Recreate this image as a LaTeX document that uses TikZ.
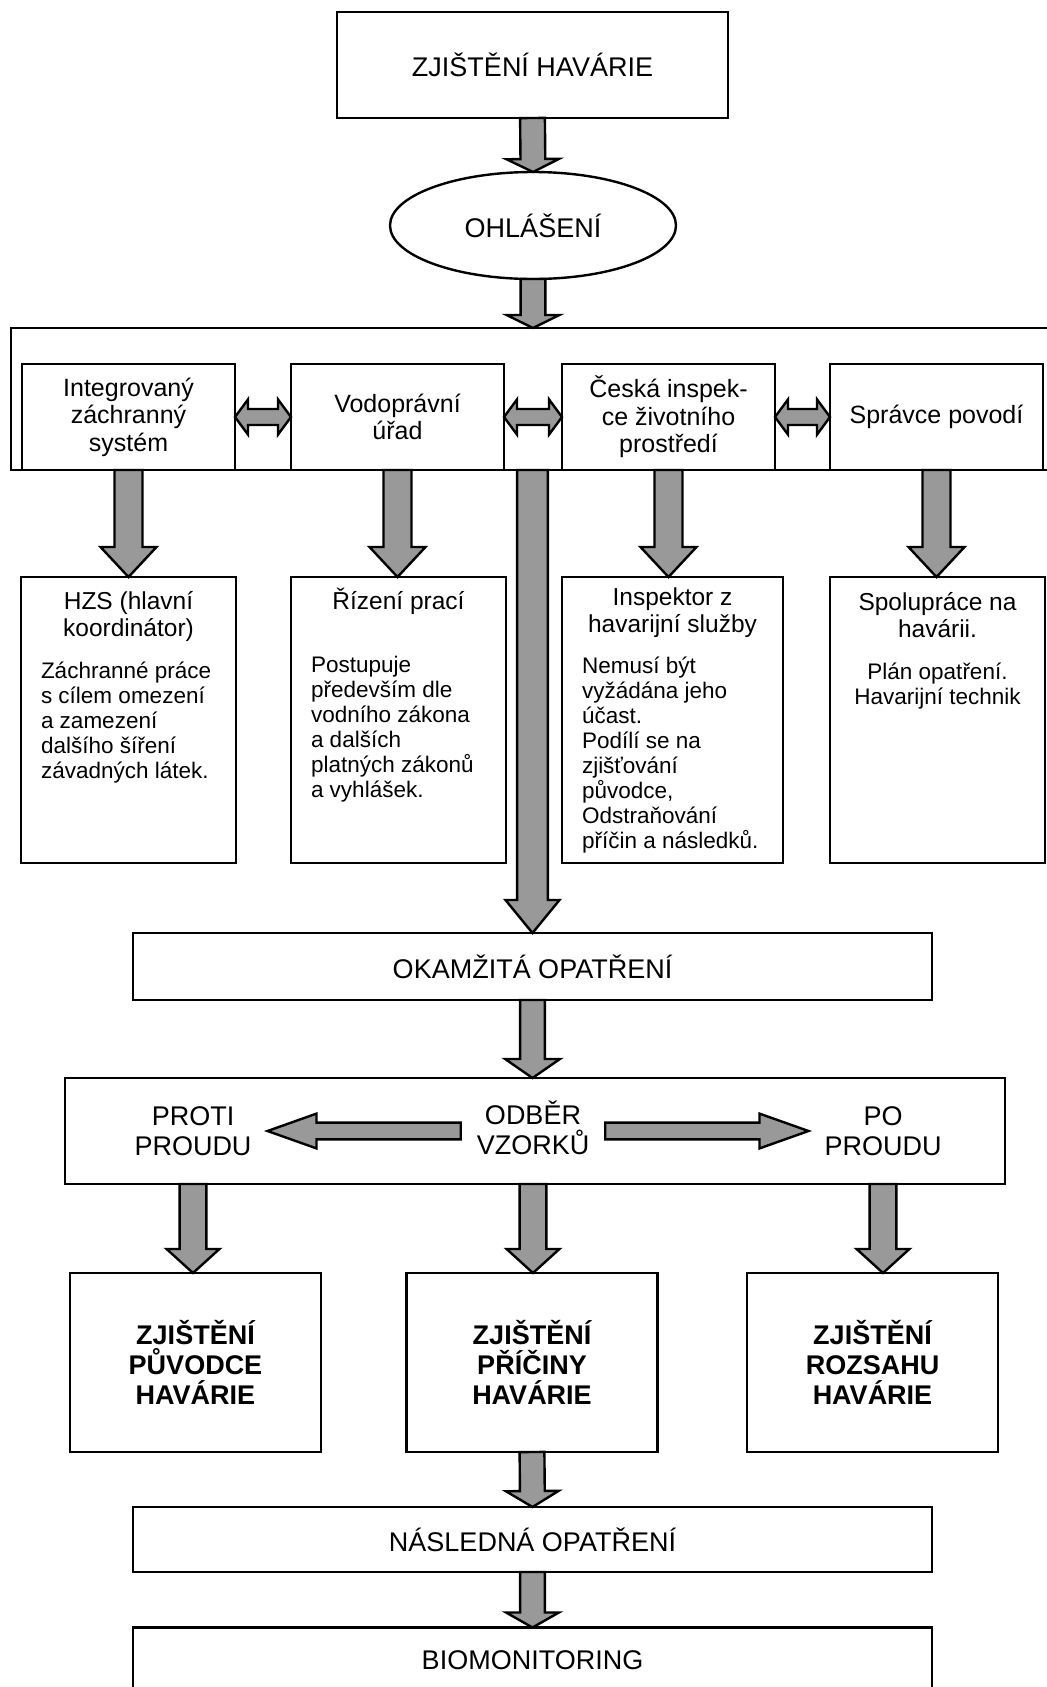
\documentclass[tikz,border=0pt]{standalone}
\usepackage{fontspec}
\setmainfont{Liberation Sans}
\usepackage{tikz}
\usetikzlibrary{calc}
\usetikzlibrary{positioning}
\usetikzlibrary{shapes.geometric}
\definecolor{arrowgrey}{RGB}{153,153,153}
\tikzset{
  mainbox/.style={draw, line width=1.4pt, inner sep=0pt, outer sep=0pt, align=center, font=\fontsize{13.5pt}{15pt}\selectfont},
  rowbox/.style={draw, line width=1.4pt, minimum width=106.5pt, minimum height=53pt, inner sep=2pt, outer sep=0pt, align=center, font=\fontsize{12.5pt}{13.75pt}\selectfont},
  detailbox/.style={draw, line width=1.4pt, anchor=north, inner xsep=10pt, inner ysep=0pt, outer sep=0pt},
  flowtext/.style={inner xsep=8pt, inner ysep=0pt, outer sep=0pt, align=center, font=\fontsize{13.5pt}{15pt}\selectfont},
  resultbox/.style={mainbox, minimum width=125.5pt, minimum height=89.5pt, font=\bfseries\fontsize{13.5pt}{15pt}\selectfont},
  fatarrow/.style={fill=arrowgrey, draw=black, line width=1.2pt, line join=miter}
}
\newcommand\detailtext[5]{\parbox[t][143pt][t]{#1}{\centering\fontsize{12.25pt}{13.5pt}\selectfont\rule{0pt}{#2}#3\par
  \vspace{#4}\raggedright\fontsize{11.25pt}{12.5pt}\selectfont #5\par}}
\newcommand\blockarrow[5]{\path[fatarrow] let \p1=(#1), \p2=(#2), \n1={atan2(\y2-\y1,\x2-\x1)} in
  ($(\p1)+(\n1+90:#3)$) -- ($(\p2)+(\n1+180:#5)+(\n1+90:#3)$) -- ($(\p2)+(\n1+180:#5)+(\n1+90:#4)$)
  -- (\p2) -- ($(\p2)+(\n1+180:#5)+(\n1-90:#4)$) -- ($(\p2)+(\n1+180:#5)+(\n1-90:#3)$)
  -- ($(\p1)+(\n1-90:#3)$) -- cycle;}
\newcommand\doublearrow[5]{\path[fatarrow] let \p1=(#1), \p2=(#2), \n1={atan2(\y2-\y1,\x2-\x1)} in
  (\p1) -- ($(\p1)+(\n1:#5)+(\n1+90:#4)$) -- ($(\p1)+(\n1:#5)+(\n1+90:#3)$)
  -- ($(\p2)+(\n1+180:#5)+(\n1+90:#3)$) -- ($(\p2)+(\n1+180:#5)+(\n1+90:#4)$)
  -- (\p2) -- ($(\p2)+(\n1+180:#5)+(\n1-90:#4)$) -- ($(\p2)+(\n1+180:#5)+(\n1-90:#3)$)
  -- ($(\p1)+(\n1:#5)+(\n1-90:#3)$) -- ($(\p1)+(\n1:#5)+(\n1-90:#4)$) -- cycle;}

\begin{document}
\begin{tikzpicture}[x=0.5pt, y=-0.5pt]
\useasboundingbox (0,0) rectangle (1046,1687);
\node[mainbox, minimum width=195.5pt, minimum height=53pt] (zjisteni) at (532.5,65) {ZJIŠTĚNÍ HAVÁRIE};
\node[mainbox, ellipse, line width=1.2pt, minimum width=143pt, minimum height=53.5pt] (ohlaseni) at (533,225.5) {OHLÁŠENÍ};
\node[mainbox, minimum width=524.5pt, minimum height=71pt] (slozky) at (535.5,399) {};
\node[rowbox] (izs) at (128.5,417) {Integrovaný\\záchranný\\systém};
\node[rowbox, right=28pt of izs] (vodurad) {Vodoprávní\\úřad};
\node[rowbox, right=29pt of vodurad] (cizp) {Česká inspek-\\ce životního\\prostředí};
\node[rowbox, right=27.5pt of cizp] (povodi) {Správce povodí};
\node[detailbox] (hzs) at (128.5,577) {\detailtext{87.5pt}{16pt}{HZS (hlavní\\koordinátor)}{8.5pt}{Záchranné práce\\s cílem omezení\\a zamezení\\dalšího šíření\\závadných látek.}};
\node[detailbox] (rizeni) at (398.5,577) {\detailtext{87.5pt}{16pt}{Řízení prací}{19pt}{Postupuje\\především dle\\vodního zákona\\a dalších\\platných zákonů\\a vyhlášek.}};
\node[detailbox] (inspektor) at (672.5,577) {\detailtext{90.5pt}{14.4pt}{Inspektor z\\havarijní služby}{8pt}{Nemusí být\\vyžádána jeho\\účast.\\Podílí se na\\zjišťování\\původce,\\Odstraňování\\příčin a následků.}};
\node[detailbox] (spoluprace) at (937.5,577) {\detailtext{87.5pt}{16.5pt}{Spolupráce na\\havárii.}{8.5pt}{\centering Plán opatření.\\Havarijní technik}};
\node[mainbox, minimum width=399.5pt, minimum height=33.5pt] (okamzita) at (532.5,966.5) {OKAMŽITÁ OPATŘENÍ};
\node[mainbox, minimum width=470pt, minimum height=53pt] (odber) at (535,1131) {};
\node[flowtext] (proti) at (193,1131) {PROTI\\PROUDU};
\node[flowtext] (vzorky) at (533,1128) {ODBĚR\\VZORKŮ};
\node[flowtext] (poproudu) at (883,1131) {PO\\PROUDU};
\node[resultbox] (puvodce) at (195.5,1362.5) {ZJIŠTĚNÍ\\PŮVODCE\\HAVÁRIE};
\node[resultbox] (priciny) at (532,1362.5) {ZJIŠTĚNÍ\\PŘÍČINY\\HAVÁRIE};
\node[resultbox] (rozsah) at (872.5,1362.5) {ZJIŠTĚNÍ\\ROZSAHU\\HAVÁRIE};
\node[mainbox, minimum width=399.5pt, minimum height=32.5pt] (nasledna) at (532.5,1539.5) {NÁSLEDNÁ OPATŘENÍ};
\node[mainbox, minimum width=399.5pt, minimum height=32.5pt] (bio) at (532.5,1660) {BIOMONITORING};
\blockarrow{zjisteni.south}{ohlaseni.north}{6.2pt}{13.2pt}{6.5pt}
\blockarrow{ohlaseni.south}{ohlaseni.south |- slozky.north}{6.2pt}{13.2pt}{6.5pt}
\doublearrow{izs.east}{vodurad.west}{4pt}{8.8pt}{6.5pt}
\doublearrow{vodurad.east}{cizp.west}{4pt}{8.8pt}{6.5pt}
\doublearrow{cizp.east}{povodi.west}{4pt}{8.8pt}{6.5pt}
\blockarrow{izs.south}{izs.south |- hzs.north}{7pt}{14pt}{15pt}
\blockarrow{vodurad.south}{vodurad.south |- rizeni.north}{7pt}{14pt}{15pt}
\blockarrow{cizp.south}{cizp.south |- inspektor.north}{7pt}{14pt}{15pt}
\blockarrow{povodi.south}{povodi.south |- spoluprace.north}{7pt}{14pt}{15pt}
\blockarrow{okamzita.north |- slozky.south}{okamzita.north}{7.7pt}{13.5pt}{16.5pt}
\blockarrow{okamzita.south}{okamzita.south |- odber.north}{6.2pt}{13.7pt}{9.5pt}
\blockarrow{vzorky.west |- proti.east}{proti.east}{4.2pt}{8.7pt}{24.5pt}
\blockarrow{vzorky.east |- poproudu.west}{poproudu.west}{4.2pt}{8.7pt}{24.5pt}
\blockarrow{proti.south |- odber.south}{proti.south |- puvodce.north}{6.7pt}{13.2pt}{12pt}
\blockarrow{vzorky.south |- odber.south}{vzorky.south |- priciny.north}{6.7pt}{13.2pt}{12pt}
\blockarrow{poproudu.south |- odber.south}{poproudu.south |- rozsah.north}{6.7pt}{13.2pt}{12pt}
\blockarrow{priciny.south}{nasledna.north}{6.2pt}{13.2pt}{8pt}
\blockarrow{nasledna.south}{bio.north}{6.2pt}{13.2pt}{7.5pt}
\end{tikzpicture}
\end{document}
